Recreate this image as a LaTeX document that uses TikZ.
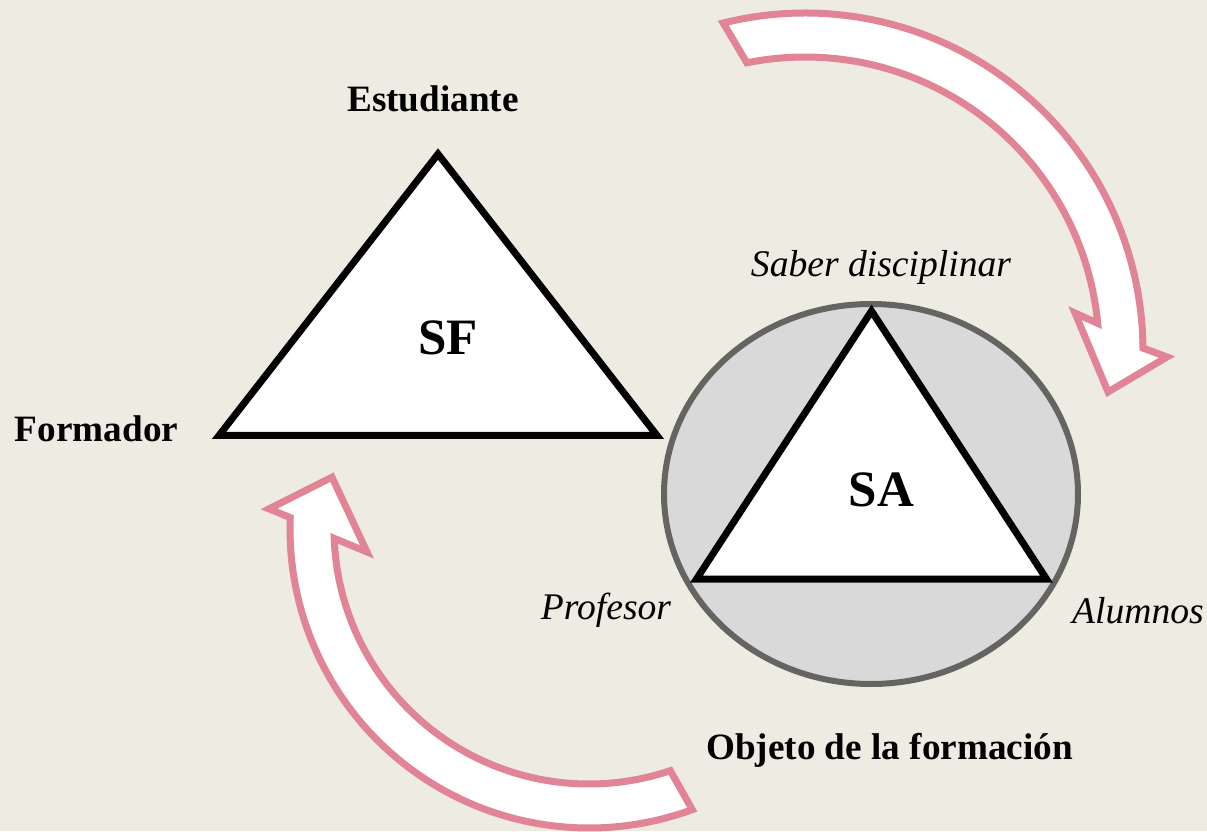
\documentclass[tikz,border=0pt]{standalone}
\usepackage{fontspec}
\setmainfont{Liberation Serif}
\definecolor{paper}{HTML}{EEEBE2}
\definecolor{rose}{HTML}{E08496}
\definecolor{disc}{HTML}{D9D9D9}
\definecolor{rim}{HTML}{646461}
\tikzset{turn/.style={draw=rose, line width=7pt, fill=white, line join=miter},
  tri/.style={draw=black, line width=7pt, fill=white, line join=miter},
  lbl/.style={anchor=base, inner sep=0pt, font=\fontsize{37.2}{40}\selectfont\bfseries},
  ital/.style={anchor=base, inner sep=0pt, font=\fontsize{37.6}{40}\selectfont\itshape},
  big/.style={anchor=base, inner sep=0pt, font=\fontsize{51}{56}\selectfont\bfseries}}

\begin{document}
\begin{tikzpicture}[x=1pt, y=1pt]
    \fill[paper] (0,0) rectangle (1207,831);
    \useasboundingbox (0,0) rectangle (1207,831);
    % curved arrows
    \begin{scope}[shift={(805,480)}]
      \draw[turn] (104:338) arc[start angle=104, end angle=0.5, radius=338]
        -- (-0.95:362) -- (-7.7:305.8) -- (8:272.7) -- (5.4:294)
        arc[start angle=5.4, end angle=101.4, radius=294] -- cycle;
    \end{scope}
    \begin{scope}[shift={(589,302)}]
      \draw[turn] (-69.8:299) arc[start angle=290.2, end angle=177.8, radius=299]
        -- (176.4:320.6) -- (168.6:262.2) -- (185.9:223.2) -- (182.1:255)
        arc[start angle=182.1, end angle=288.6, radius=255] -- cycle;
    \end{scope}
    % SF
    \coordinate (sfTop) at (438,677);
    \coordinate (sfLeft) at (219,395.5);
    \coordinate (sfRight) at (657,395.5);
    \draw[tri] (sfTop) -- (sfLeft) -- (sfRight) -- cycle;
    \node[lbl] (est) at (433,719) {Estudiante};
    \node[lbl] (form) at (96.5,389) {Formador};
    \node[big] (sf) at (448,476) {SF};
    % SA
    \draw[rim, fill=disc, line width=6pt] (871,337) ellipse [x radius=207, y radius=190];
    \coordinate (saTop) at (871.5,520);
    \coordinate (saLeft) at (696.5,252);
    \coordinate (saRight) at (1046.5,252);
    \draw[tri] (saTop) -- (saLeft) -- (saRight) -- cycle;
    \node[ital] (saber) at (881,554) {Saber disciplinar};
    \node[ital] (prof) at (606,212) {Profesor};
    \node[ital] (alum) at (1138,208) {Alumnos};
    \node[big] (sa) at (881.5,325) {SA};
    \node[lbl] (obj) at (889.5,72) {Objeto de la formación};
\end{tikzpicture}
\end{document}
